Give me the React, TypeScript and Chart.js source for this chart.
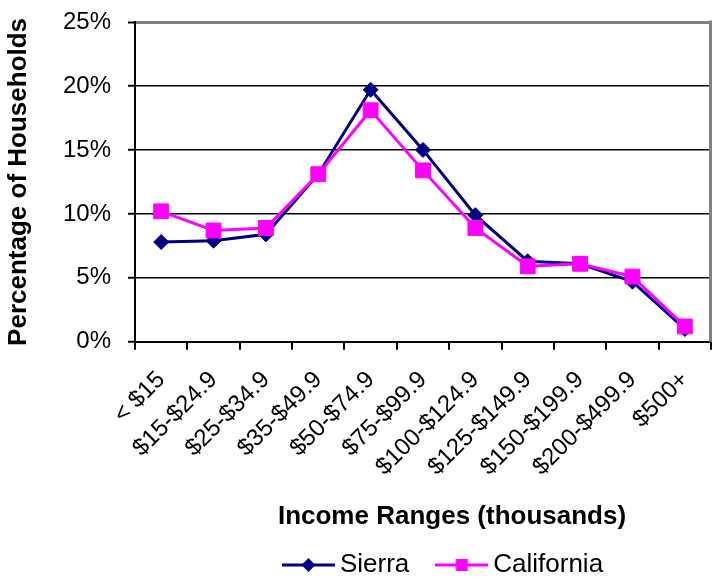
import React, { useEffect, useRef } from 'react';
import { Chart, registerables } from 'chart.js';

Chart.register(...registerables);

// ---- Data ----
const categories = [
  '< $15',
  '$15-$24.9',
  '$25-$34.9',
  '$35-$49.9',
  '$50-$74.9',
  '$75-$99.9',
  '$100-$124.9',
  '$125-$149.9',
  '$150-$199.9',
  '$200-$499.9',
  '$500+',
];
const sierraValues = [7.8, 7.9, 8.4, 13.1, 19.7, 15.0, 9.9, 6.3, 6.1, 4.7, 1.0];
const californiaValues = [10.2, 8.7, 8.9, 13.1, 18.1, 13.4, 8.9, 5.9, 6.1, 5.1, 1.2];
const yTickValues = [0, 5, 10, 15, 20, 25];
const seriesNames = ['Sierra', 'California'];
const xAxisTitle = 'Income Ranges (thousands)';
const yAxisTitle = 'Percentage of Households';

// ---- Styles ----
const FONT = "'Liberation Sans', Arial, Helvetica, sans-serif";
const NAVY = '#000080';
const MAGENTA = '#FF00FF';
const LEGEND_SHIFT = 91;
const TITLE_SHIFT = 29;

function makeSwatch(color: string, kind: 'diamond' | 'square') {
  const c = document.createElement('canvas');
  c.width = 53;
  c.height = 18;
  const ctx = c.getContext('2d')!;
  ctx.strokeStyle = color;
  ctx.lineWidth = 3;
  ctx.beginPath();
  ctx.moveTo(0, 9);
  ctx.lineTo(53, 9);
  ctx.stroke();
  ctx.fillStyle = color;
  if (kind === 'diamond') {
    ctx.beginPath();
    ctx.moveTo(26.5, 2);
    ctx.lineTo(33.5, 9);
    ctx.lineTo(26.5, 16);
    ctx.lineTo(19.5, 9);
    ctx.closePath();
    ctx.fill();
  } else {
    ctx.fillRect(20.5, 3, 12, 12);
  }
  return c;
}

const excelFrame = {
  id: 'excelFrame',
  afterLayout(chart: any) {
    if (chart.legend) {
      chart.legend.left += LEGEND_SHIFT;
      chart.legend.right += LEGEND_SHIFT;
    }
    if (chart.titleBlock) {
      chart.titleBlock.left += TITLE_SHIFT;
      chart.titleBlock.right += TITLE_SHIFT;
    }
  },
  beforeDatasetsDraw(chart: any) {
    const { ctx, chartArea } = chart;
    ctx.save();
    ctx.strokeStyle = '#808080';
    ctx.lineWidth = 3;
    ctx.beginPath();
    ctx.moveTo(chartArea.right - 0.5, chartArea.top - 1.5);
    ctx.lineTo(chartArea.right - 0.5, chartArea.bottom);
    ctx.stroke();
    ctx.restore();
  },
};

export default function App() {
  const ref = useRef<HTMLCanvasElement | null>(null);

  useEffect(() => {
    if (!ref.current) return;
    const swatches = [makeSwatch(NAVY, 'diamond'), makeSwatch(MAGENTA, 'square')];
    const chart = new Chart(ref.current, {
      type: 'line',
      data: {
        labels: categories,
        datasets: [
          {
            label: seriesNames[0],
            data: sierraValues,
            borderColor: NAVY,
            backgroundColor: NAVY,
            borderWidth: 3,
            pointStyle: 'rectRot',
            pointRadius: 7.5,
            pointBorderWidth: 1,
            pointBackgroundColor: NAVY,
            pointBorderColor: NAVY,
            tension: 0,
            order: 2,
          },
          {
            label: seriesNames[1],
            data: californiaValues,
            borderColor: MAGENTA,
            backgroundColor: MAGENTA,
            borderWidth: 3,
            pointStyle: 'rect',
            pointRadius: 10.5,
            pointBorderWidth: 1,
            pointBackgroundColor: MAGENTA,
            pointBorderColor: MAGENTA,
            tension: 0,
            order: 1,
          },
        ],
      },
      options: {
        animation: false,
        responsive: false,
        events: [],
        layout: { autoPadding: false, padding: { top: 22, right: 2, bottom: -9, left: 0 } },
        scales: {
          x: {
            type: 'category',
            offset: true,
            grid: {
              display: true,
              drawOnChartArea: false,
              drawTicks: true,
              tickLength: 8,
              offset: true,
              color: '#000',
              lineWidth: 2,
            },
            border: { display: true, color: '#000', width: 2 },
            ticks: {
              autoSkip: false,
              maxRotation: 45,
              minRotation: 45,
              font: { family: FONT, size: 24 },
              color: '#000',
              padding: 16,
            },
            afterFit: (s: any) => {
              s.height = 159;
              s.paddingLeft = 0;
              s.paddingRight = 0;
            },
          },
          y: {
            min: 0,
            max: 25,
            afterBuildTicks: (s: any) => {
              s.ticks = yTickValues.map((v) => ({ value: v }));
            },
            ticks: {
              callback: (v: any) => v + '%',
              font: { family: FONT, size: 24 },
              color: '#000',
              padding: 17,
            },
            grid: {
              color: (c: any) => (c.tick && c.tick.value === 25 ? '#808080' : '#000'),
              lineWidth: (c: any) => (c.tick && c.tick.value === 25 ? 3 : 1.5),
              tickColor: '#000',
              tickWidth: 2,
              tickLength: 7,
              drawTicks: true,
            },
            border: { display: true, color: '#000', width: 2 },
            title: {
              display: true,
              text: yAxisTitle,
              font: { family: FONT, size: 26, weight: 'bold' },
              color: '#000',
              padding: { top: 3, bottom: 0 },
            },
            afterFit: (s: any) => {
              s.width = 135;
              s.paddingTop = 0;
              s.paddingBottom = 0;
            },
          },
        },
        plugins: {
          legend: {
            position: 'bottom',
            align: 'center',
            labels: {
              usePointStyle: true,
              pointStyleWidth: 37,
              font: { family: FONT, size: 26 },
              color: '#000',
              padding: 34,
              generateLabels: (ch: any) => {
                const items = Chart.defaults.plugins.legend.labels.generateLabels(ch);
                return items.map((it: any) => ({ ...it, pointStyle: swatches[it.datasetIndex] }));
              },
              sort: (a: any, b: any) => a.datasetIndex - b.datasetIndex,
            },
          },
          title: {
            display: true,
            text: xAxisTitle,
            position: 'bottom',
            weight: 500,
            fullSize: false,
            font: { family: FONT, size: 26, weight: 'bold' },
            color: '#000',
            padding: { top: 0, bottom: -14 },
          },
          tooltip: { enabled: false },
        },
      },
      plugins: [excelFrame],
    } as any);
    return () => chart.destroy();
  }, []);

  return (
    <div style={{ position: 'fixed', left: 0, top: 0, width: 713, height: 579, background: '#fff' }}>
      <canvas ref={ref} width={713} height={579} style={{ display: 'block' }} />
    </div>
  );
}
